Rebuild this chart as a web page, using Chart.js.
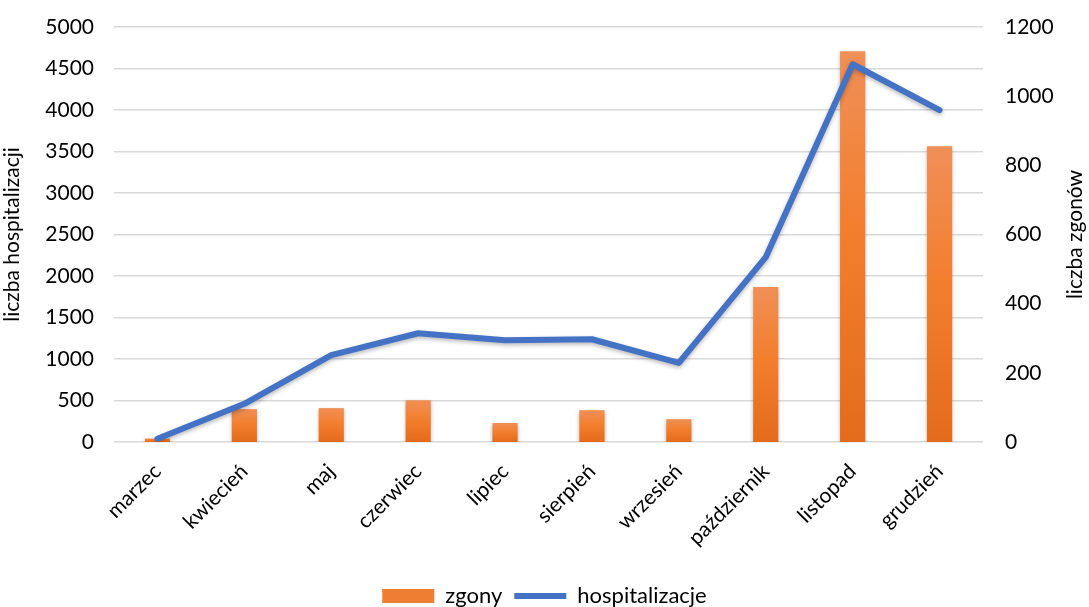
<!DOCTYPE html>
<html>
<head>
<meta charset="utf-8">
<script src="https://cdn.jsdelivr.net/npm/chart.js@4/dist/chart.umd.min.js"></script>
<style>
  html, body { margin: 0; padding: 0; background: #fff; }
  #wrap { width: 1089px; height: 607px; }
</style>
</head>
<body>
<div id="wrap"><canvas id="wykres"></canvas></div>
<script>
// dane
const miesiace = ['marzec', 'kwiecień', 'maj', 'czerwiec', 'lipiec', 'sierpień', 'wrzesień', 'październik', 'listopad', 'grudzień'];
const zgony = [10, 95, 98, 121, 55, 92, 66, 448, 1130, 855];
const hospitalizacje = [40, 460, 1046, 1310, 1226, 1238, 953, 2227, 4551, 3998];

const ticksLewa = [0, 5000, 500];
const ticksPrawa = [0, 1200, 200];

const czcionka = 'Lato, "Open Sans", sans-serif';
const kolorTekstu = '#000';

// gradient dla kazdego slupka osobno (jasniejszy u gory)
function gradientSlupka(c) {
  const chart = c.chart;
  const skala = chart.scales.y1;
  if (!chart.chartArea || !skala || c.raw === undefined) return '#ED7D31';
  const gora = skala.getPixelForValue(c.raw);
  const dol = skala.getPixelForValue(0);
  if (!isFinite(gora) || !isFinite(dol) || gora === dol) return '#ED7D31';
  const g = chart.ctx.createLinearGradient(0, gora, 0, dol);
  g.addColorStop(0, '#F08F57');
  g.addColorStop(0.45, '#F37F2E');
  g.addColorStop(1, '#E46B1C');
  return g;
}

// lekki cien pod seriami
const cien = {
  id: 'cien',
  beforeDatasetDraw(chart) {
    const ctx = chart.ctx;
    ctx.save();
    ctx.shadowColor = 'rgba(0,0,0,0.28)';
    ctx.shadowBlur = 4;
    ctx.shadowOffsetY = 2;
  },
  afterDatasetDraw(chart) {
    chart.ctx.restore();
  }
};

// tytul prawej osi (czytany od dolu do gory)
const tytulPrawy = {
  id: 'tytulPrawy',
  afterDraw(chart) {
    const ctx = chart.ctx;
    const area = chart.chartArea;
    ctx.save();
    ctx.translate(1075, (area.top + area.bottom) / 2);
    ctx.rotate(-Math.PI / 2);
    ctx.font = '21px ' + czcionka;
    ctx.fillStyle = kolorTekstu;
    ctx.textAlign = 'center';
    ctx.textBaseline = 'middle';
    ctx.fillText('liczba zgonów', 0, 0);
    ctx.restore();
  }
};

const bezSeparatora = v => String(v);

// osie pionowe: stala szerokosc, bez dodatkowego marginesu u gory/dolu
function szerokosc(w) {
  return s => {
    s.width = w;
    s.paddingTop = 0;
    s.paddingBottom = 0;
  };
}

const ctx = document.getElementById('wykres').getContext('2d');

const wykres = new Chart(ctx, {
  type: 'bar',
  data: {
    labels: miesiace,
    datasets: [
      {
        type: 'line',
        label: 'hospitalizacje',
        data: hospitalizacje,
        yAxisID: 'y',
        borderColor: '#4472C4',
        backgroundColor: '#4472C4',
        borderWidth: 6,
        borderCapStyle: 'round',
        borderJoinStyle: 'round',
        pointRadius: 0,
        pointStyle: 'line',
        tension: 0,
        order: 0
      },
      {
        type: 'bar',
        label: 'zgony',
        data: zgony,
        yAxisID: 'y1',
        backgroundColor: gradientSlupka,
        borderWidth: 0,
        pointStyle: 'rect',
        barPercentage: 0.29,
        categoryPercentage: 1,
        order: 1
      }
    ]
  },
  options: {
    responsive: true,
    maintainAspectRatio: false,
    animation: false,
    layout: {
      padding: { top: 27, bottom: -10, left: 0, right: 0 }
    },
    scales: {
      x: {
        grid: { display: false },
        border: { display: false },
        ticks: {
          color: kolorTekstu,
          font: { family: czcionka, size: 21 },
          maxRotation: 45,
          minRotation: 45,
          padding: 9
        },
        afterFit: s => { s.height = 131; }
      },
      y: {
        position: 'left',
        min: ticksLewa[0],
        max: ticksLewa[1],
        ticks: {
          stepSize: ticksLewa[2],
          callback: bezSeparatora,
          color: kolorTekstu,
          font: { family: czcionka, size: 21 },
          padding: 20
        },
        grid: { color: '#D9D9D9', lineWidth: 1.5, drawTicks: false },
        border: { display: false },
        title: {
          display: true,
          text: 'liczba hospitalizacji',
          color: kolorTekstu,
          font: { family: czcionka, size: 21 },
          padding: 0
        },
        afterFit: szerokosc(114)
      },
      y1: {
        position: 'right',
        min: ticksPrawa[0],
        max: ticksPrawa[1],
        ticks: {
          stepSize: ticksPrawa[2],
          callback: bezSeparatora,
          color: kolorTekstu,
          font: { family: czcionka, size: 21 },
          padding: 22
        },
        grid: { display: false, drawTicks: false },
        border: { display: false },
        afterFit: szerokosc(106)
      }
    },
    plugins: {
      tooltip: { enabled: false },
      legend: {
        position: 'bottom',
        reverse: true,
        labels: {
          color: kolorTekstu,
          font: { family: czcionka, size: 22 },
          usePointStyle: true,
          pointStyleWidth: 52,
          boxWidth: 52,
          boxHeight: 14,
          padding: 12,
          generateLabels: chart => {
            const items = Chart.defaults.plugins.legend.labels.generateLabels(chart);
            items.forEach(it => {
              if (it.text === 'zgony') {
                it.fillStyle = '#F07E32';
                it.strokeStyle = '#F07E32';
                it.lineWidth = 0;
              }
            });
            return items;
          }
        }
      }
    }
  },
  plugins: [cien, tytulPrawy]
});
</script>
</body>
</html>
